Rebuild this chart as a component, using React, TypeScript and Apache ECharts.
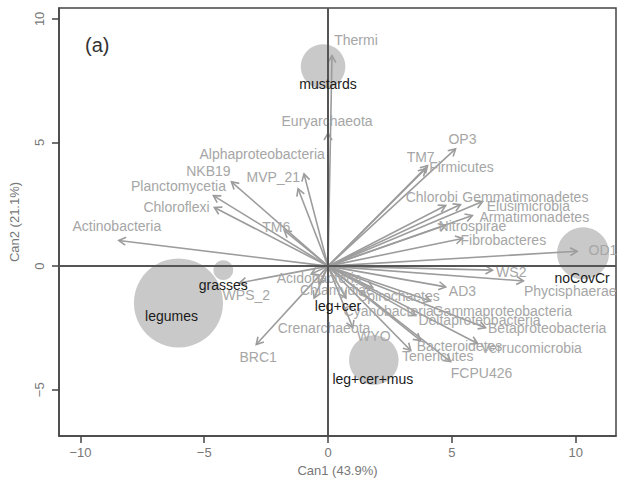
import React, { useEffect, useRef } from "react";
import * as echarts from "echarts";

// Group centroids (bubbles)
const groupNames = ["mustards", "legumes", "grasses", "noCovCr", "leg+cer", "leg+cer+mus"];
const groupX = [-0.2, -6.04, -4.23, 10.3, 0.3, 1.85];
const groupY = [8.07, -1.49, -0.16, 0.52, -1.55, -3.8];
const groupRadius = [0.9, 1.8, 0.4, 1.05, 0.0, 1.0];
const groupLabelX = [0.0, -6.32, -4.23, 10.26, 0.4, 1.81];
const groupLabelY = [7.35, -2.0, -0.76, -0.5, -1.6, -4.58];

// Phyla vectors
const phyla = [
  "Thermi", "Euryarchaeota", "Alphaproteobacteria", "MVP_21", "NKB19", "Planctomycetia",
  "Chloroflexi", "Actinobacteria", "TM6", "WPS_2", "BRC1", "Acidobacteria", "Chlamydiae",
  "Crenarchaeota", "WYO", "Cyanobacteria", "Spirochaetes", "Gammaproteobacteria",
  "Deltaproteobacteria", "Betaproteobacteria", "Bacteroidetes", "Verrucomicrobia",
  "Tenericutes", "FCPU426", "AD3", "Phycisphaerae", "WS2", "OD1", "Fibrobacteres",
  "Nitrospirae", "Armatimonadetes", "Elusimicrobia", "Gemmatimonadetes", "Chlorobi",
  "Firmicutes", "TM7", "OP3",
];
const arrowX = [
  0.16, 0.0, -0.97, -1.21, -3.9, -4.63, -4.59, -8.45, -1.77, -3.58, -2.9, -0.68, -0.36,
  -0.56, 1.0, 0.72, 1.81, 4.14, 3.54, 6.36, 3.74, 6.04, 3.34, 4.95, 4.75, 7.89, 6.64,
  10.06, 5.43, 4.75, 5.83, 5.35, 6.24, 4.75, 3.94, 4.02, 5.15,
];
const arrowY = [
  8.51, 5.38, 3.73, 3.13, 3.41, 2.85, 2.37, 1.04, 1.45, -0.68, -3.17, -0.32, -0.72,
  -1.29, -2.49, -1.29, -0.88, -1.41, -2.0, -2.49, -3.01, -3.13, -3.41, -3.86, -0.84, -0.6,
  -0.16, 0.6, 1.12, 1.65, 2.05, 2.49, 2.61, 2.45, 3.94, 4.06, 4.74,
];
const labelX = [
  1.13, -0.04, -2.66, -2.21, -4.83, -6.04, -6.12, -8.53, -2.09, -3.3, -2.82, -0.36, 0.36,
  -0.16, 1.85, 2.45, 2.86, 7.04, 6.12, 8.85, 5.31, 8.21, 4.43, 6.2, 5.43, 9.78, 7.4,
  11.1, 7.08, 5.83, 8.33, 8.09, 7.97, 4.19, 5.39, 3.74, 5.43,
];
const labelY = [
  9.16, 5.86, 4.54, 3.61, 3.86, 3.25, 2.41, 1.61, 1.57, -1.16, -3.69, -0.48, -0.96,
  -2.49, -2.81, -1.81, -1.2, -1.81, -2.17, -2.49, -3.21, -3.33, -3.65, -4.34, -1.0, -1.0,
  -0.24, 0.64, 1.04, 1.61, 1.97, 2.45, 2.81, 2.81, 4.02, 4.42, 5.14,
];

const xTicks = [-10, -5, 0, 5, 10];
const yTicks = [-5, 0, 5, 10];
const xRange = [-10.865, 11.63];
const yRange = [-6.87, 10.44];

const FONT = "'Liberation Sans', Arial, sans-serif";

export default function App() {
  const ref = useRef<HTMLDivElement>(null);
  useEffect(() => {
    if (!ref.current) return;
    const chart = echarts.init(ref.current, undefined, { renderer: "svg" });

    const bubbleData = groupNames.map((n, i) => [groupX[i], groupY[i], groupRadius[i]]);
    const arrowData = phyla.map((n, i) => [arrowX[i], arrowY[i]]);
    const labelData = phyla.map((n, i) => ({ value: [labelX[i], labelY[i]], name: n }));
    const groupLabelData = groupNames.map((n, i) => ({ value: [groupLabelX[i], groupLabelY[i]], name: n }));

    const axisLine = { show: true, onZero: false, lineStyle: { color: "#444", width: 1.5 } };
    const tickStyle = { show: true, length: 7, lineStyle: { color: "#444", width: 1.5 } };
    const fmt = (v: number) => (v < 0 ? "\u2212" + Math.abs(v) : String(v));

    chart.setOption({
      animation: false,
      backgroundColor: "#fff",
      grid: {
        left: 57, right: 1, top: 8, bottom: 43,
        show: true, borderColor: "#444", borderWidth: 1.5,
      },
      xAxis: {
        type: "value",
        min: xRange[0], max: xRange[1],
        axisLine,
        splitLine: { show: false },
        axisTick: { ...tickStyle, customValues: xTicks },
        axisLabel: {
          customValues: xTicks, color: "#777", fontSize: 13, fontFamily: FONT, margin: 10,
          formatter: fmt,
        },
        name: "Can1 (43.9%)",
        nameLocation: "middle",
        nameGap: 28,
        nameTextStyle: { color: "#777", fontSize: 13, fontFamily: FONT },
      },
      yAxis: {
        type: "value",
        min: yRange[0], max: yRange[1],
        axisLine,
        splitLine: { show: false },
        axisTick: { ...tickStyle, customValues: yTicks },
        axisLabel: {
          customValues: yTicks, color: "#777", fontSize: 13, fontFamily: FONT, rotate: 90, margin: 13,
          formatter: fmt,
        },
        name: "Can2 (21.1%)",
        nameLocation: "middle",
        nameRotate: 90,
        nameGap: 38,
        nameTextStyle: { color: "#777", fontSize: 13, fontFamily: FONT },
      },
      graphic: [
        {
          type: "text", left: 85, top: 35, z: 10,
          style: { text: "(a)", fill: "#333", fontSize: 20, fontFamily: FONT },
        },
      ],
      series: [
        {
          type: "custom",
          z: 1,
          silent: true,
          data: bubbleData,
          renderItem: (params: any, api: any) => {
            const c = api.coord([api.value(0), api.value(1)]);
            const r = api.size([api.value(2), 0])[0];
            return {
              type: "circle",
              shape: { cx: c[0], cy: c[1], r: Math.max(r, 0) },
              style: { fill: "#c9c9c9", stroke: "none" },
            };
          },
        },
        {
          type: "scatter",
          z: 2,
          data: [],
          silent: true,
          markLine: {
            silent: true,
            symbol: "none",
            label: { show: false },
            lineStyle: { color: "#555", width: 2, type: "solid" },
            data: [{ xAxis: 0 }, { yAxis: 0 }],
          },
        },
        {
          type: "custom",
          z: 3,
          silent: true,
          data: arrowData,
          renderItem: (params: any, api: any) => {
            const o = api.coord([0, 0]);
            const t = api.coord([api.value(0), api.value(1)]);
            const ang = Math.atan2(t[1] - o[1], t[0] - o[0]);
            const L = 8;
            const a = Math.PI / 6;
            const p1 = [t[0] - L * Math.cos(ang - a), t[1] - L * Math.sin(ang - a)];
            const p2 = [t[0] - L * Math.cos(ang + a), t[1] - L * Math.sin(ang + a)];
            return {
              type: "group",
              children: [
                {
                  type: "line",
                  shape: { x1: o[0], y1: o[1], x2: t[0], y2: t[1] },
                  style: { stroke: "#9c9c9c", lineWidth: 1.6 },
                },
                {
                  type: "polyline",
                  shape: { points: [p1, t, p2] },
                  style: { stroke: "#9c9c9c", lineWidth: 1.6, fill: "none" },
                },
              ],
            };
          },
        },
        {
          type: "custom",
          z: 4,
          silent: true,
          data: labelData,
          renderItem: (params: any, api: any) => {
            const p = api.coord([api.value(0), api.value(1)]);
            return {
              type: "text",
              x: p[0], y: p[1],
              style: {
                text: phyla[params.dataIndex],
                fill: "#a6a6a6",
                fontSize: 14,
                fontFamily: FONT,
                align: "center",
                verticalAlign: "middle",
              },
            };
          },
        },
        {
          type: "custom",
          z: 5,
          silent: true,
          data: groupLabelData,
          renderItem: (params: any, api: any) => {
            const p = api.coord([api.value(0), api.value(1)]);
            return {
              type: "text",
              x: p[0], y: p[1],
              style: {
                text: groupNames[params.dataIndex],
                fill: "#1a1a1a",
                fontSize: 14,
                fontFamily: FONT,
                align: "center",
                verticalAlign: "middle",
              },
            };
          },
        },
      ],
    });
    return () => chart.dispose();
  }, []);
  return (
    <div
      ref={ref}
      style={{ position: "fixed", left: 0, top: 0, width: 617, height: 482, background: "#fff" }}
    />
  );
}
